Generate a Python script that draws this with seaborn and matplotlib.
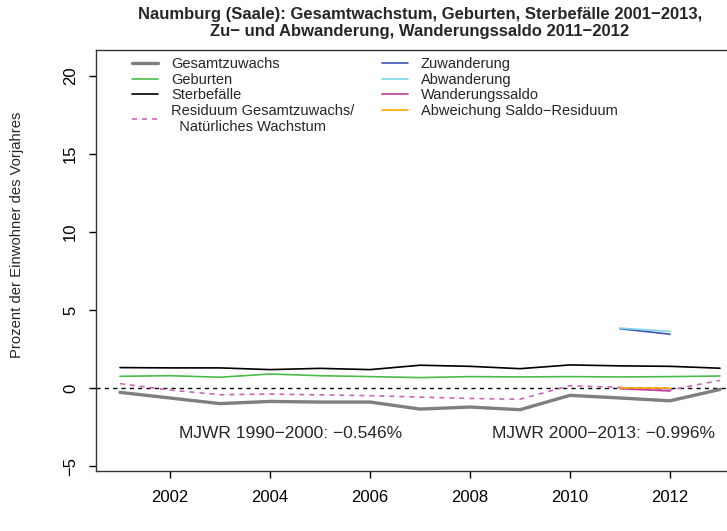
import matplotlib
matplotlib.use("Agg")
import matplotlib.pyplot as plt
import seaborn as sns
import pandas as pd

# Jahre und Reihen (Prozent der Einwohner des Vorjahres)
years = [2001, 2002, 2003, 2004, 2005, 2006, 2007, 2008, 2009, 2010, 2011, 2012, 2013]
gesamtzuwachs = [-0.28, -0.64, -1.00, -0.86, -0.90, -0.90, -1.35, -1.22, -1.39, -0.47, -0.64, -0.82, -0.09]
geburten = [0.75, 0.79, 0.69, 0.90, 0.79, 0.73, 0.67, 0.73, 0.71, 0.73, 0.71, 0.73, 0.77]
sterbefaelle = [1.31, 1.29, 1.29, 1.18, 1.26, 1.18, 1.46, 1.39, 1.24, 1.48, 1.42, 1.39, 1.27]
residuum = [0.28, -0.13, -0.43, -0.39, -0.44, -0.49, -0.58, -0.67, -0.72, 0.15, 0.04, -0.13, 0.49]

mig_years = [2011, 2012]
zuwanderung = [3.80, 3.45]
abwanderung = [3.84, 3.63]
wanderungssaldo = [-0.04, -0.19]
abweichung = [0.0, 0.0]

title = ("Naumburg (Saale): Gesamtwachstum, Geburten, Sterbefälle 2001\u22122013,\n"
         "Zu\u2212 und Abwanderung, Wanderungssaldo 2011\u22122012")
mjwr_left = "MJWR 1990\u22122000: \u22120.546%"
mjwr_right = "MJWR 2000\u22122013: \u22120.996%"

sns.set_style("white")
plt.rcParams['font.family'] = ['Liberation Sans', 'DejaVu Sans']

fig = plt.figure(figsize=(7.27, 5.31), dpi=100)
# axes reach past the right edge, like the cropped original
ax = fig.add_axes([96 / 727, 1 - 471 / 531, 648 / 727, 421 / 531])

ax.axhline(0, color='black', lw=1, ls=(0, (3, 3)), zorder=1)

natural = pd.DataFrame({'Jahr': years, 'Gesamtzuwachs': gesamtzuwachs, 'Geburten': geburten,
                        'Sterbefälle': sterbefaelle, 'Residuum': residuum})
migration = pd.DataFrame({'Jahr': mig_years, 'Zuwanderung': zuwanderung, 'Abwanderung': abwanderung,
                          'Wanderungssaldo': wanderungssaldo, 'Abweichung': abweichung})

sns.lineplot(data=natural, x='Jahr', y='Gesamtzuwachs', ax=ax, color='#7f7f7f', lw=2.4,
             label='Gesamtzuwachs')
sns.lineplot(data=natural, x='Jahr', y='Geburten', ax=ax, color='#4cbb4c', lw=1.2,
             label='Geburten')
sns.lineplot(data=natural, x='Jahr', y='Sterbefälle', ax=ax, color='black', lw=1.2,
             label='Sterbefälle')
sns.lineplot(data=natural, x='Jahr', y='Residuum', ax=ax, color='#cc66bb', lw=1.2,
             ls=(0, (3, 3)), label='Residuum Gesamtzuwachs/\n  Natürliches Wachstum')
sns.lineplot(data=migration, x='Jahr', y='Zuwanderung', ax=ax, color='#3f51b5', lw=1.2,
             label='Zuwanderung')
sns.lineplot(data=migration, x='Jahr', y='Abwanderung', ax=ax, color='#7fd3ea', lw=1.2,
             label='Abwanderung')
sns.lineplot(data=migration, x='Jahr', y='Wanderungssaldo', ax=ax, color='#c23b9e', lw=1.2,
             label='Wanderungssaldo')
sns.lineplot(data=migration, x='Jahr', y='Abweichung', ax=ax, color='#ffa500', lw=1.2,
             label='Abweichung Saldo\u2212Residuum')

ax.set_xlim(2000.52, 2013.48)
ax.set_ylim(-5.32, 21.67)
ax.set_xticks([2002, 2004, 2006, 2008, 2010, 2012])
ax.set_yticks([-5, 0, 5, 10, 15, 20])
ax.set_yticklabels(['\u22125', '0', '5', '10', '15', '20'], rotation=90, va='center')
ax.tick_params(axis='both', direction='out', length=5, width=1, labelsize=12,
               bottom=True, left=True, colors='black')
ax.tick_params(axis='x', pad=9)
ax.tick_params(axis='y', pad=8)
for s in ax.spines.values():
    s.set_color('#333333')
    s.set_linewidth(1)

ax.set_xlabel('')
ax.set_ylabel('Prozent der Einwohner des Vorjahres', fontsize=10.7)
ax.yaxis.set_label_coords(-0.111, 0.56)
ax.set_title(title, fontsize=12, fontweight='bold', pad=10)

ax.text(2004.42, -2.9, mjwr_left, fontsize=12.5, ha='center', va='center')
ax.text(2010.66, -2.9, mjwr_right, fontsize=12.5, ha='center', va='center')

handles, labels = ax.get_legend_handles_labels()
ax.legend(handles, labels, ncol=2, frameon=False, loc='upper left',
          bbox_to_anchor=(0.045, 1.0), fontsize=10.5, handlelength=1.75,
          handletextpad=0.9, columnspacing=1.9, labelspacing=0.1, borderaxespad=0.1)

fig.savefig('out.png', dpi=100)
